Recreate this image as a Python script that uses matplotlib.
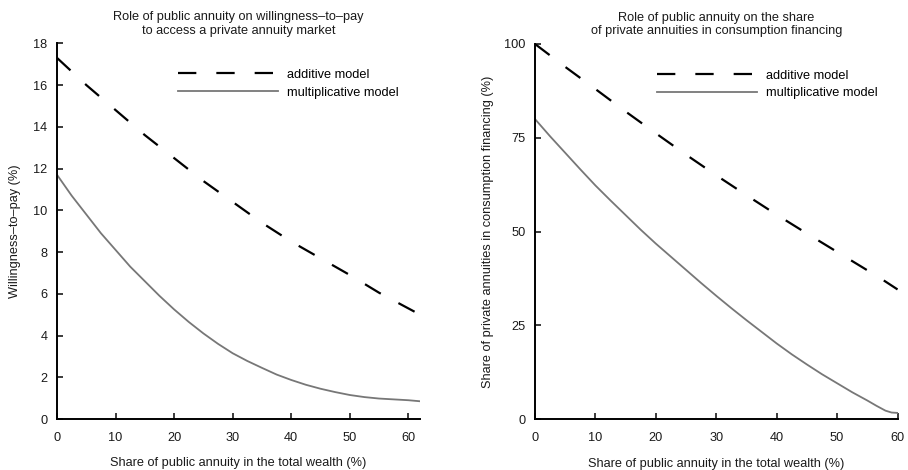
import matplotlib
import matplotlib.pyplot as plt
matplotlib.use('Agg')

plt.rcParams['font.family'] = ['Liberation Sans', 'DejaVu Sans']
plt.rcParams['lines.scale_dashes'] = False

# Left panel: willingness-to-pay (%)
share_add_l = [0, 5, 10, 15, 20, 25, 30, 35, 40, 45, 50, 55, 60, 62]
wtp_additive = [17.3, 16.0, 14.8, 13.6, 12.5, 11.4, 10.4, 9.4, 8.5, 7.7, 6.9, 6.05, 5.3, 5.0]
share_mul_l = [0, 2.5, 5, 7.5, 10, 12.5, 15, 17.5, 20, 22.5, 25, 27.5, 30, 32.5, 35, 37.5,
               40, 42.5, 45, 47.5, 50, 52.5, 55, 60, 62]
wtp_multiplicative = [11.7, 10.7, 9.8, 8.9, 8.1, 7.3, 6.6, 5.9, 5.25, 4.65, 4.1, 3.6, 3.15, 2.78,
                      2.45, 2.13, 1.87, 1.64, 1.45, 1.29, 1.15, 1.05, 0.98, 0.9, 0.85]

# Right panel: share of private annuities in consumption financing (%)
share_add_r = [0, 5, 10, 15, 20, 25, 30, 35, 40, 45, 50, 55, 58, 60]
fin_additive = [100, 93.9, 88.0, 82.0, 76.2, 70.5, 65.0, 59.7, 54.5, 49.5, 44.6, 39.7, 36.7, 34.6]
share_mul_r = [0, 2.5, 5, 7.5, 10, 12.5, 15, 17.5, 20, 22.5, 25, 27.5, 30, 32.5, 35, 37.5,
               40, 42.5, 45, 47.5, 50, 52.5, 55, 56.5, 58, 59, 60]
fin_multiplicative = [80, 75.4, 71.0, 66.6, 62.3, 58.3, 54.4, 50.5, 46.8, 43.3, 39.8, 36.3, 32.9,
                      29.6, 26.4, 23.3, 20.2, 17.3, 14.6, 12.0, 9.6, 7.2, 5.0, 3.6, 2.3, 1.8, 1.7]

fs = 9.2
txt = "#1a1a1a"

fig = plt.figure(figsize=(9.08, 4.70), dpi=100)
ax1 = fig.add_axes([0.0628, 0.1085, 0.3998, 0.7994])
ax2 = fig.add_axes([0.5892, 0.1079, 0.3993, 0.7985])


def style(ax):
    ax.spines['top'].set_visible(False)
    ax.spines['right'].set_visible(False)
    for s in ['left', 'bottom']:
        ax.spines[s].set_linewidth(1.4)
        ax.spines[s].set_color('black')
    ax.tick_params(direction='in', length=4, width=1.2, labelsize=fs, colors=txt)
    ax.tick_params(axis='y', pad=7)
    ax.tick_params(axis='x', pad=9)


ax1.plot(share_add_l, wtp_additive, color='black', lw=1.6, dashes=(13.2, 14.4), label='additive model')
ax1.plot(share_mul_l, wtp_multiplicative, color='#777777', lw=1.3, label='multiplicative model')
ax1.set_xlim(0, 62)
ax1.set_ylim(0, 18)
ax1.set_xticks(range(0, 61, 10))
ax1.set_yticks(range(0, 19, 2))
style(ax1)
ax1.set_title("Role of public annuity on willingness–to–pay\nto access a private annuity market",
              fontsize=fs, color=txt, pad=7, linespacing=1.15)
ax1.set_xlabel("Share of public annuity in the total wealth (%)", fontsize=fs, color=txt, labelpad=10)
ax1.set_ylabel("Willingness–to–pay (%)", fontsize=fs, color=txt, labelpad=9)
ax1.legend(loc='upper left', bbox_to_anchor=(0.333, 0.932), frameon=False, fontsize=fs,
           handlelength=7.8, handletextpad=0.75, labelspacing=0.45, borderpad=0, borderaxespad=0)

ax2.plot(share_add_r, fin_additive, color='black', lw=1.6, dashes=(13.2, 14.4), label='additive model')
ax2.plot(share_mul_r, fin_multiplicative, color='#777777', lw=1.3, label='multiplicative model')
ax2.set_xlim(0, 60)
ax2.set_ylim(0, 100)
ax2.set_xticks(range(0, 61, 10))
ax2.set_yticks([0, 25, 50, 75, 100])
style(ax2)
ax2.set_title("Role of public annuity on the share\nof private annuities in consumption financing",
              fontsize=fs, color=txt, pad=7, linespacing=1.15)
ax2.set_xlabel("Share of public annuity in the total wealth (%)", fontsize=fs, color=txt, labelpad=10)
ax2.set_ylabel("Share of private annuities in consumption financing (%)", fontsize=fs, color=txt, labelpad=7)
ax2.legend(loc='upper left', bbox_to_anchor=(0.337, 0.932), frameon=False, fontsize=fs,
           handlelength=7.8, handletextpad=0.75, labelspacing=0.45, borderpad=0, borderaxespad=0)

plt.savefig("out.png", dpi=100)
